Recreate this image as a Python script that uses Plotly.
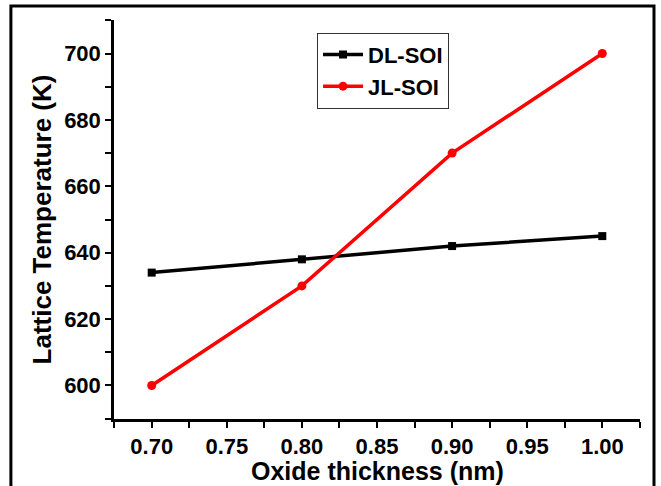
import plotly.graph_objects as go

thickness = [0.70, 0.80, 0.90, 1.00]
dl_soi = [634, 638, 642, 645]
jl_soi = [600, 630, 670, 700]

FONT = "Liberation Sans"

fig = go.Figure()
fig.add_trace(go.Scatter(
    x=thickness, y=dl_soi, name="<b>DL-SOI</b>", mode="lines+markers",
    line=dict(color="black", width=3.5),
    marker=dict(symbol="square", size=8, color="black"),
))
fig.add_trace(go.Scatter(
    x=thickness, y=jl_soi, name="<b>JL-SOI</b>", mode="lines+markers",
    line=dict(color="#ff0000", width=3.5),
    marker=dict(symbol="circle", size=9, color="#ff0000"),
))

axis_common = dict(
    showline=True, linecolor="black", linewidth=2.5,
    ticks="outside", ticklen=6, tickwidth=2, tickcolor="black",
    showgrid=False, zeroline=False, mirror=False, automargin=False,
    tickfont=dict(family=FONT, size=22, color="black", weight="bold"),
)

fig.update_xaxes(
    **axis_common,
    range=[0.6749, 1.0251], tick0=0.70, dtick=0.05, tickformat=".2f",
    minor=dict(ticks="outside", ticklen=6, tickwidth=2, tickcolor="black", tick0=0.675, dtick=0.05),
)
fig.update_yaxes(
    **axis_common,
    range=[589.9, 710.1], tick0=600, dtick=20,
    minor=dict(ticks="outside", ticklen=6, tickwidth=2, tickcolor="black", tick0=590, dtick=20),
    title=dict(text="<b>Lattice Temperature (K)</b>", font=dict(family=FONT, size=26, color="black"), standoff=6),
)

fig.update_layout(
    width=661, height=486,
    margin=dict(l=114, r=21, t=20, b=67),
    paper_bgcolor="white", plot_bgcolor="white",
    font=dict(family=FONT, color="black"),
    showlegend=True,
    legend=dict(
        x=0.386, y=0.968, xanchor="left", yanchor="top",
        bgcolor="white", bordercolor="#333333", borderwidth=1,
        font=dict(family=FONT, size=22, color="black"),
        tracegroupgap=0, itemwidth=40,
    ),
    annotations=[dict(
        text="<b>Oxide thickness (nm)</b>", xref="paper", yref="paper",
        x=0.5, y=-0.131, xanchor="center", yanchor="middle", showarrow=False,
        font=dict(family=FONT, size=25, color="black"),
    )],
    shapes=[dict(
        type="rect", xref="paper", yref="paper",
        x0=-0.196, x1=1.0266, y0=-0.25, y1=1.035,
        line=dict(color="black", width=3), fillcolor="rgba(0,0,0,0)", layer="above",
    )],
)

fig.write_html(
    "out.html",
    config={"displayModeBar": False},
    post_script="document.body.style.margin='0';document.body.style.overflow='hidden';",
)
